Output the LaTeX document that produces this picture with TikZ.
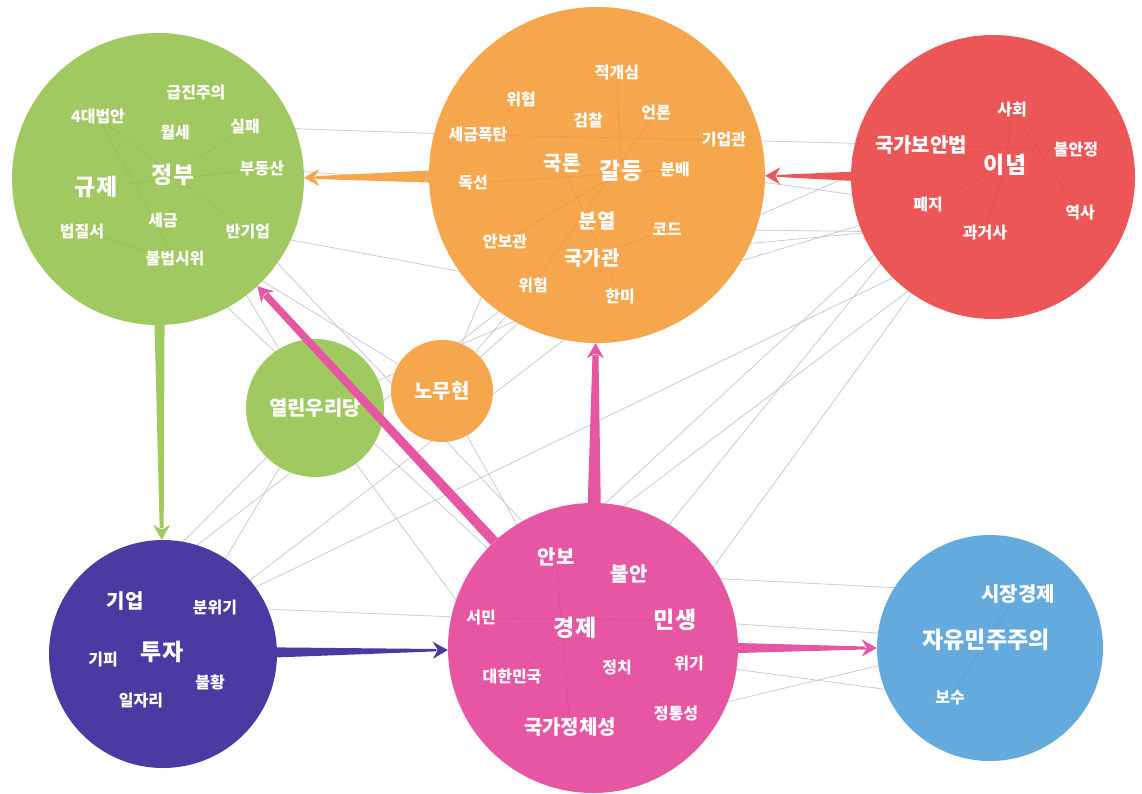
\documentclass[tikz,border=0pt]{standalone}
\usepackage{fontspec}
\newfontfamily\kr{Noto Sans CJK KR}
\usetikzlibrary{calc,arrows.meta,backgrounds}

\definecolor{govgreen}{RGB}{160,201,98}
\definecolor{conforange}{RGB}{246,166,76}
\definecolor{ideored}{RGB}{236,86,86}
\definecolor{invpurple}{RGB}{76,58,163}
\definecolor{econpink}{RGB}{230,86,162}
\definecolor{libblue}{RGB}{100,170,220}
\definecolor{faintline}{RGB}{200,204,214}

\tikzset{
  topic/.style={circle, inner sep=0pt, minimum size=#1},
  wsm/.style={text=white, inner sep=0pt, font=\kr\bfseries\fontsize{16}{16}\selectfont},
  wmd/.style={text=white, inner sep=0pt, font=\kr\bfseries\fontsize{20}{20}\selectfont},
  wbg/.style={text=white, inner sep=0pt, font=\kr\bfseries\fontsize{23}{23}\selectfont},
  faint/.style={draw=faintline, line width=0.8pt},
  inner/.style={draw=black, opacity=0.05, line width=0.8pt},
}

% tapered flow: from, to, half width at start, half width at end, colour
\newcommand\flow[5]{%
  \path (#1) -- coordinate[pos=0] (fs) coordinate[pos=1] (ft) (#2);
  \coordinate (fe) at ($(ft)!12pt!(fs)$);
  \fill[#5] ($(fs)!#3!90:(fe)$) -- ($(fs)!#3!-90:(fe)$)
    -- ($(fe)!#4!90:(fs)$) -- ($(fe)!#4!-90:(fs)$) -- cycle;
  \draw[#5, line width=0.8pt, -{Stealth[length=15pt,width=17pt,inset=5pt]}] (fe) -- (ft);
}

\begin{document}
\begin{tikzpicture}[x=1pt, y=-1pt]
\useasboundingbox (0,0) rectangle (1142,794);

% topic circles
\node[topic=292, fill=govgreen]  (gov)      at (158,179) {};
\node[topic=336, fill=conforange] (conflict) at (597,175) {};
\node[topic=284, fill=ideored]   (ideo)     at (993,177) {};
\node[topic=228, fill=invpurple] (invest)   at (163,654) {};
\node[topic=290, fill=econpink]  (econ)     at (593,648) {};
\node[topic=226, fill=libblue]   (liberal)  at (990,648) {};
\node[topic=138, fill=govgreen, wmd]   (uri) at (315,408) {열린우리당};
\node[topic=102, fill=conforange, wmd] (roh) at (442,391) {노무현};

% words: government
\node[wsm] (geupjin)   at (196,93)  {급진주의};
\node[wsm] (daebeop)   at (98,117)  {4대법안};
\node[wsm] (wolse)     at (175,133) {월세};
\node[wsm] (silpae)    at (245,127) {실패};
\node[wbg] (jeongbu)   at (173,175) {정부};
\node[wbg] (gyuje)     at (96,187)  {규제};
\node[wsm] (budongsan) at (262,169) {부동산};
\node[wsm] (segeum)    at (163,220) {세금};
\node[wsm] (bangieop)  at (248,232) {반기업};
\node[wsm] (beopjil)   at (82,232)  {법질서};
\node[wsm] (bulbeop)   at (175,259) {불법시위};

% words: conflict
\node[wsm] (jeokgae)   at (617,73)  {적개심};
\node[wsm] (wihyeop)   at (521,99)  {위협};
\node[wsm] (geomchal)  at (588,120) {검찰};
\node[wsm] (eollon)    at (656,113) {언론};
\node[wsm] (poktan)    at (478,135) {세금폭탄};
\node[wsm] (gieopgwan) at (724,140) {기업관};
\node[wmd] (gungnon)   at (562,163) {국론};
\node[wbg] (galdeung)  at (621,171) {갈등};
\node[wsm] (bunbae)    at (675,170) {분배};
\node[wsm] (dokseon)   at (473,183) {독선};
\node[wmd] (bunyeol)   at (597,221) {분열};
\node[wsm] (kodeu)     at (667,229) {코드};
\node[wsm] (anbogwan)  at (505,241) {안보관};
\node[wmd] (gukgagwan) at (592,258) {국가관};
\node[wsm] (wiheom)    at (533,285) {위험};
\node[wsm] (hanmi)     at (620,297) {한미};

% words: ideology
\node[wsm] (sahoe)     at (1012,110) {사회};
\node[wmd] (gukbo)     at (921,145)  {국가보안법};
\node[wsm] (bulan)     at (1076,150) {불안정};
\node[wbg] (inyeom)    at (1005,165) {이념};
\node[wsm] (pyeji)     at (928,205)  {폐지};
\node[wsm] (gwageosa)  at (985,233)  {과거사};
\node[wsm] (yeoksa)    at (1080,213) {역사};

% words: investment
\node[wmd] (gieop)     at (125,601) {기업};
\node[wsm] (bunwigi)   at (215,607) {분위기};
\node[wsm] (gipi)      at (103,660) {기피};
\node[wbg] (tuja)      at (162,652) {투자};
\node[wsm] (bulhwang)  at (210,682) {불황};
\node[wsm] (iljari)    at (141,701) {일자리};

% words: economy
\node[wmd] (anbo)      at (556,557) {안보};
\node[wmd] (buran)     at (629,574) {불안};
\node[wsm] (seomin)    at (481,618) {서민};
\node[wbg] (gyeongje)  at (575,628) {경제};
\node[wbg] (minsaeng)  at (675,620) {민생};
\node[wsm] (jeongchi)  at (617,668) {정치};
\node[wsm] (wigi)      at (689,663) {위기};
\node[wsm] (hanguk)    at (512,676) {대한민국};
\node[wsm] (jeongtong) at (676,714) {정통성};
\node[wmd] (jeongche)  at (570,727) {국가정체성};

% words: liberal democracy
\node[wmd] (sijang)    at (1018,594) {시장경제};
\node[wbg] (jayu)      at (986,640)  {자유민주주의};
\node[wsm] (bosu)      at (950,698)  {보수};

% flows
\flow{conflict}{gov}{6pt}{1.5pt}{conforange}
\flow{ideo}{conflict}{4.5pt}{1pt}{ideored}
\flow{gov}{invest}{5pt}{2pt}{govgreen}
\flow{econ}{gov}{5pt}{3.5pt}{econpink}
\flow{econ}{conflict}{6.5pt}{3pt}{econpink}
\flow{invest}{econ}{5pt}{1.2pt}{invpurple}
\flow{econ}{liberal}{5pt}{1.5pt}{econpink}

% links inside the topics
\draw[inner] (jeongbu) -- (daebeop) (jeongbu) -- (silpae) (jeongbu) -- (bangieop)
  (gyuje) -- (budongsan) (beopjil) -- (bulbeop) (daebeop) -- (bulbeop);
\draw[inner] (galdeung) -- (jeokgae) (galdeung) -- (anbogwan) (gungnon) -- (hanmi)
  (poktan) -- (gieopgwan) (dokseon) -- (bunbae) (wiheom) -- (eollon) (gukgagwan) -- (kodeu);
\draw[inner] (inyeom) -- (sahoe) (inyeom) -- (pyeji) (gukbo) -- (bulan)
  (inyeom) -- (gwageosa) (sahoe) -- (yeoksa);
\draw[inner] (gyeongje) -- (buran) (gyeongje) -- (hanguk) (seomin) -- (minsaeng)
  (anbo) -- (jeongche) (jeongchi) -- (jeongtong);
\draw[inner] (jayu) -- (bosu) (jayu) -- (sijang);

% faint links between topics
\begin{pgfonlayer}{background}
\fill[white] (0,0) rectangle (1142,794);
\draw[faint] (silpae) -- (poktan);
\draw[faint] (budongsan) -- (dokseon);
\draw[faint] (gieopgwan) -- (gukbo);
\draw[faint] (bunbae) -- (pyeji);
\draw[faint] (kodeu) -- (gwageosa);
\draw[faint] (hanmi) -- (pyeji);
\draw[faint] (gukgagwan) -- (yeoksa);
\draw[faint] (pyeji) -- (buran);
\draw[faint] (gwageosa) -- (anbo);
\draw[faint] (inyeom) -- (minsaeng);
\draw[faint] (pyeji) -- (seomin);
\draw[faint] (gwageosa) -- (bunwigi);
\draw[faint] (gukbo) -- (uri);
\draw[faint] (bunwigi) -- (hanmi);
\draw[faint] (gieop) -- (wiheom);
\draw[faint] (gieop) -- (uri);
\draw[faint] (bunwigi) -- (seomin);
\draw[faint] (bangieop) -- (anbo);
\draw[faint] (bulbeop) -- (jeongchi);
\draw[faint] (segeum) -- (roh);
\draw[faint] (roh) -- (wiheom);
\draw[faint] (roh) -- (anbogwan);
\draw[faint] (roh) -- (gukgagwan);
\draw[faint] (roh) -- (gyeongje);
\draw[faint] (uri) -- (jeongbu);
\draw[faint] (uri) -- (iljari);
\draw[faint] (uri) -- (hanguk);
\draw[faint] (minsaeng) -- (jayu);
\draw[faint] (wigi) -- (bosu);
\draw[faint] (jeongtong) -- (jayu);
\draw[faint] (buran) -- (sijang);
\draw[faint] (bangieop) -- (wiheom);
\end{pgfonlayer}
\end{tikzpicture}
\end{document}
